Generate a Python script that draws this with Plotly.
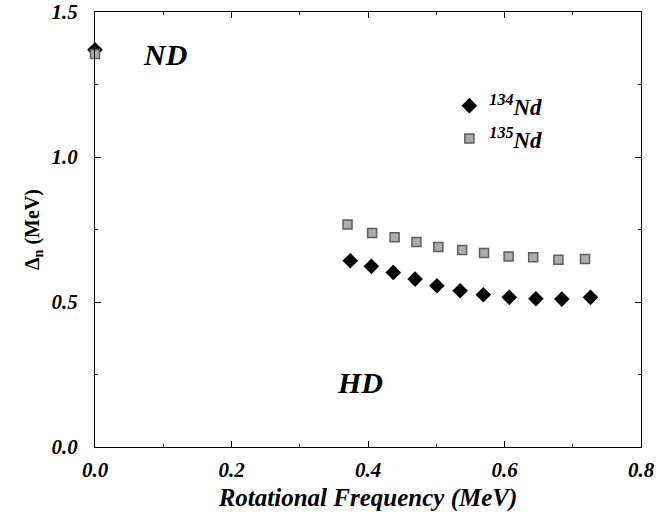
import plotly.graph_objects as go

# Data
omega_134 = [0.0, 0.374, 0.405, 0.437, 0.469, 0.501, 0.535, 0.569, 0.607, 0.646, 0.684, 0.726]
delta_134 = [1.37, 0.642, 0.623, 0.602, 0.579, 0.556, 0.539, 0.525, 0.516, 0.511, 0.510, 0.516]

omega_135 = [0.0, 0.370, 0.406, 0.439, 0.471, 0.503, 0.538, 0.570, 0.606, 0.642, 0.679, 0.718]
delta_135 = [1.355, 0.767, 0.738, 0.723, 0.707, 0.690, 0.679, 0.669, 0.657, 0.654, 0.646, 0.648]

x_ticks = [0.0, 0.2, 0.4, 0.6, 0.8]
y_ticks = [0.0, 0.5, 1.0, 1.5]

FONT = "Liberation Serif"
BI = dict(family=FONT, color="black", weight="bold", style="italic")

fig = go.Figure()
fig.add_trace(go.Scatter(
    x=omega_134, y=delta_134, mode="markers", name="<b><i><sup>134</sup>Nd</i></b>",
    cliponaxis=False,
    marker=dict(symbol="diamond", size=12, color="black", line=dict(width=0)),
))
fig.add_trace(go.Scatter(
    x=omega_135, y=delta_135, mode="markers", name="<b><i><sup>135</sup>Nd</i></b>",
    cliponaxis=False,
    marker=dict(symbol="square", size=9, color="#acacac",
                line=dict(width=1.5, color="#5e5e5e")),
))

axis_common = dict(
    showline=True, linecolor="black", linewidth=1.2, mirror="ticks",
    ticks="inside", ticklen=6, tickcolor="black", showgrid=False, zeroline=False,
    automargin=False,
    tickfont=dict(size=21, **BI),
)

fig.update_layout(
    width=658, height=512,
    paper_bgcolor="white", plot_bgcolor="white",
    margin=dict(l=95, r=17, t=12, b=65),
    showlegend=True,
    legend=dict(x=0.649, y=0.834, xanchor="left", yanchor="top",
                bgcolor="rgba(0,0,0,0)", borderwidth=0, itemwidth=30,
                tracegroupgap=2,
                font=dict(size=23, **BI)),
    xaxis=dict(range=[0, 0.8], tickvals=x_ticks,
               ticktext=[f"<b><i>{v:.1f}</i></b>" for v in x_ticks],
               ticklabelstandoff=4,
               minor=dict(ticks="inside", ticklen=3, dtick=0.1, tickcolor="black"),
               title=dict(text="<b><i>Rotational Frequency (MeV)</i></b>", standoff=10,
                          font=dict(size=25, **BI)),
               **axis_common),
    yaxis=dict(range=[0, 1.5], tickvals=y_ticks,
               ticktext=[f"<b><i>{v:.1f}</i></b>" for v in y_ticks],
               ticklabelstandoff=12,
               minor=dict(ticks="inside", ticklen=3, dtick=0.25, tickcolor="black"),
               title=dict(text="<b>Δ<sub>n</sub> (MeV)</b>", standoff=6,
                          font=dict(family=FONT, size=20, color="black", weight="bold")),
               **axis_common),
    annotations=[
        dict(x=0.103, y=1.354, xref="x", yref="y", text="<b><i>ND</i></b>", showarrow=False,
             font=dict(size=30, **BI)),
        dict(x=0.388, y=0.222, xref="x", yref="y", text="<b><i>HD</i></b>", showarrow=False,
             font=dict(size=30, **BI)),
    ],
)

fig.write_html(
    "out.html",
    config={"displayModeBar": False},
    post_script="document.body.style.margin='0';document.body.style.overflow='hidden';",
)
